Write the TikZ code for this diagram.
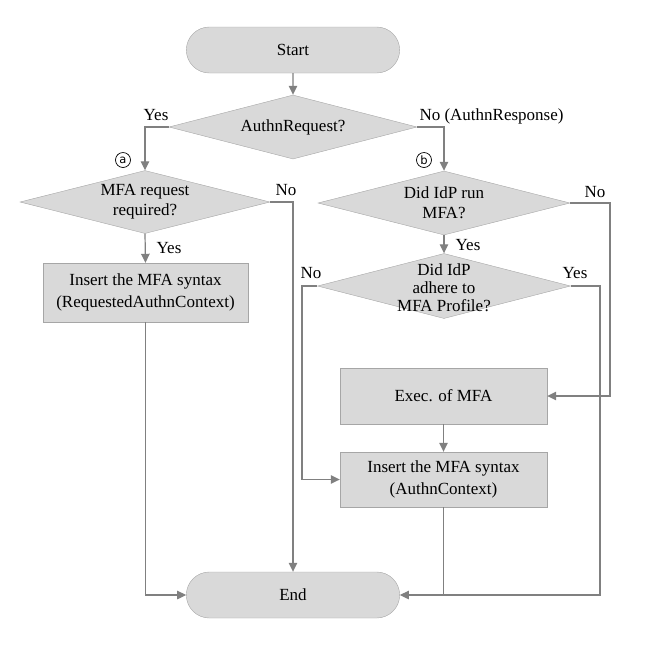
\documentclass[tikz,border=0pt]{standalone}
\usepackage{fontspec}
\setmainfont{Liberation Serif}
\setsansfont{DejaVu Sans}
\usetikzlibrary{shapes.geometric,shapes.misc,arrows.meta}
\definecolor{boxfill}{HTML}{D9D9D9}
\definecolor{boxline}{HTML}{A6A6A6}
\definecolor{arrline}{HTML}{808080}

\begin{document}
\begin{tikzpicture}[x=1pt,y=-1pt,
		font=\fontsize{17}{21.5}\selectfont,
		term/.style={rounded rectangle,draw=boxline,fill=boxfill,minimum width=220pt,minimum height=46pt},
		proc/.style={rectangle,draw=boxline,fill=boxfill,minimum width=207pt,minimum height=57pt,align=center},
		dec/.style={diamond,draw=boxline,fill=boxfill,inner sep=0pt},
		flow/.style={draw=arrline,line width=1.2pt,-{Triangle[length=9pt,width=8.5pt]}},
		link/.style={draw=arrline,line width=1.2pt},
		tag/.style={circle,draw,line width=0.7pt,inner sep=0pt,minimum size=15pt,font=\sffamily\fontsize{11.5}{11.5}\selectfont}]
		\useasboundingbox (0,0) rectangle (651,649);
		\node[term] (start) at (293,50) {Start};
		\node[dec,minimum width=248pt,minimum height=64pt] (q1) at (293,127) {};
		\node (q1t) at (q1) {AuthnRequest?};
		\node[dec,minimum width=250pt,minimum height=63pt] (q2) at (145,202) {};
		\node[align=center,font=\fontsize{17}{20}\selectfont] (q2t) at (q2) {MFA request\\required?};
		\node[dec,minimum width=252pt,minimum height=64pt] (q3) at (444,203) {};
		\node[align=center,font=\fontsize{17}{20}\selectfont] (q3t) at (q3) {Did IdP run\\MFA?};
		\node[dec,minimum width=253pt,minimum height=65pt] (q4) at (444,286) {};
		\node[align=center,font=\fontsize{17}{18}\selectfont] (q4t) at (444,288) {Did IdP\\adhere to\\MFA Profile?};
		\node[proc,minimum width=205pt,minimum height=59pt] (ins1) at (145.5,292.5) {Insert the MFA syntax\\(RequestedAuthnContext)};
		\node[proc,minimum height=56pt] (exec) at (443.5,396) {Exec. of MFA};
		\node[proc,minimum height=55pt] (ins2) at (443.5,479.5) {Insert the MFA syntax\\(AuthnContext)};
		\node[term] (end) at (293,595) {End};
		\coordinate (r3) at (610,203);
		\coordinate (l4) at (302,286);
		\coordinate (r4) at (600,286);

		\draw[flow] (start) -- (q1);
		\draw[flow] (q1.west) -| (q2.north);
		\draw[flow] (q1.east) -| (q3.north);
		\draw[flow] (q2.east) -| (end.north);
		\draw[flow] (q2.south) -- (ins1.north);
		\draw[flow] (ins1.south) |- (end.west);
		\draw[flow] (q3.east) -- (r3) |- (exec.east);
		\draw[flow] (q3.south) -- (q4.north);
		\draw[flow] (q4.west) -- (l4) |- (ins2.west);
		\draw[flow] (q4.east) -- (r4) |- (end.east);
		\draw[flow] (exec.south) -- (ins2.north);
		\draw[link] (ins2.south) -- (ins2.south |- end.east);

		\node (yes1) at (156,115) {Yes};
		\node[anchor=west] (no1) at (416,116) {No (AuthnResponse)};
		\node (no2) at (286,190) {No};
		\node (yes2) at (169,248) {Yes};
		\node (no3) at (595,192) {No};
		\node (yes3) at (468,245) {Yes};
		\node (no4) at (311,273) {No};
		\node (yes4) at (575,273) {Yes};
		\node[tag] (ma) at (123,160) {a};
		\node[tag] (mb) at (424,160) {b};
	\end{tikzpicture}
\end{document}
